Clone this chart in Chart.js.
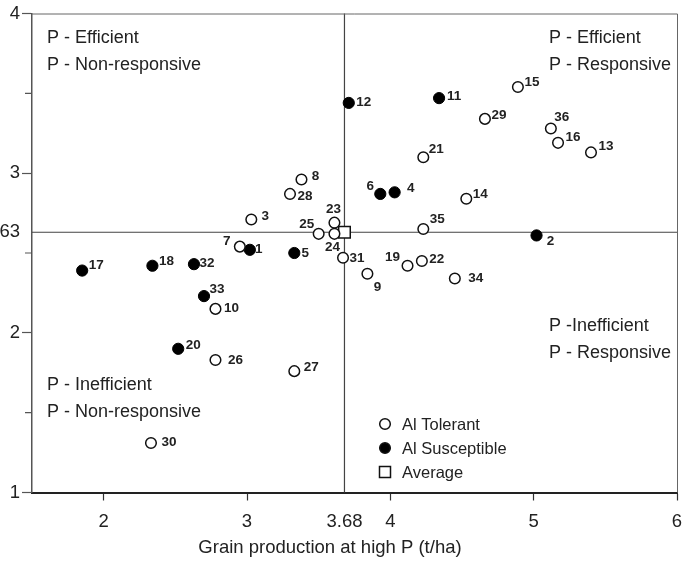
<!DOCTYPE html>
<html>
<head>
<meta charset="utf-8">
<title>Grain production at high P</title>
<script src="https://cdn.jsdelivr.net/npm/chart.js@4.4.1/dist/chart.umd.min.js"></script>
<style>
  html, body { margin: 0; padding: 0; background: #fff; overflow: hidden; }
  body { width: 684px; height: 561px; position: relative; }
  #wrap { position: absolute; left: -40px; top: 0; }
</style>
</head>
<body>
<div id="wrap"><canvas id="pChart" width="764" height="561"></canvas></div>
<script>
// genotype numbers, grain at high P (x) and the y value, split by Al reaction
const tolerantIds = [3, 7, 8, 9, 10, 13, 14, 15, 16, 19, 21, 22, 23, 24, 25, 26, 27, 28, 29, 30, 31, 34, 35, 36];
const tolerantX = [3.03, 2.95, 3.38, 3.84, 2.78, 5.40, 4.53, 4.89, 5.17, 4.12, 4.23, 4.22, 3.61, 3.61, 3.50, 2.78, 3.33, 3.30, 4.66, 2.33, 3.67, 4.45, 4.23, 5.12];
const tolerantY = [2.71, 2.54, 2.96, 2.37, 2.15, 3.13, 2.84, 3.54, 3.19, 2.42, 3.10, 2.45, 2.69, 2.62, 2.62, 1.83, 1.76, 2.87, 3.34, 1.31, 2.47, 2.34, 2.65, 3.28];

const susceptibleIds = [1, 2, 4, 5, 6, 11, 12, 17, 18, 20, 32, 33];
const susceptibleX = [3.02, 5.02, 4.03, 3.33, 3.93, 4.34, 3.71, 1.85, 2.34, 2.52, 2.63, 2.70];
const susceptibleY = [2.52, 2.61, 2.88, 2.50, 2.87, 3.47, 3.44, 2.39, 2.42, 1.90, 2.43, 2.23];

const avgX = 3.68;
const avgY = 2.63;

const xTicks = [2, 3, 3.68, 4, 5, 6];
const yTicks = [1, 1.5, 2, 2.5, 2.63, 3, 3.5, 4];
const yMinor = [1.5, 2.5, 3.5];

const xTitle = 'Grain production at high P (t/ha)';

// where each number sits next to its marker (pixels from the point centre)
const labelOffset = {
  1: [9, -1], 2: [14, 6], 3: [14, -3], 4: [16, -4], 5: [11, 0], 6: [-10, -8],
  7: [-13, -5], 8: [14, -3], 9: [10, 14], 10: [16, -1], 11: [15, -2], 12: [15, -1],
  13: [15, -6], 14: [14, -4], 15: [14, -5], 16: [15, -6], 17: [14, -5], 18: [14, -4],
  19: [-15, -8], 20: [15, -4], 21: [13, -8], 22: [15, -2], 23: [-1, -13], 24: [-2, 13],
  25: [-12, -10], 26: [20, 0], 27: [17, -4], 28: [15, 2], 29: [14, -4], 30: [18, -1],
  31: [14, 0], 32: [13, -1], 33: [13, -7], 34: [21, 0], 35: [14, -10], 36: [11, -11]
};

const quadrantText = [
  { lines: ['P - Efficient', 'P - Non-responsive'], dx: 15, dy: 24.5 },
  { lines: ['P - Efficient', 'P - Responsive'], dx: 517, dy: 24.5 },
  { lines: ['P -Inefficient', 'P - Responsive'], dx: 517, dy: 312.5 },
  { lines: ['P - Inefficient', 'P - Non-responsive'], dx: 15, dy: 371.5 }
];

const toPoints = (xs, ys, ids) => xs.map((x, i) => ({ x: x, y: ys[i], id: ids ? ids[i] : null }));

const TEXT = '#222';
const FONT = "'Liberation Sans', Arial, sans-serif";

// average lines, frame, minor ticks, quadrant captions, axis title, point numbers, legend
const decorPlugin = {
  id: 'decor',
  beforeDatasetsDraw(chart) {
    const { ctx, chartArea: a, scales: { x, y } } = chart;
    ctx.save();
    ctx.strokeStyle = '#444';
    ctx.lineWidth = 1.2;
    const vx = x.getPixelForValue(avgX);
    const hy = y.getPixelForValue(avgY);
    ctx.beginPath();
    ctx.moveTo(vx, a.top); ctx.lineTo(vx, a.bottom);
    ctx.moveTo(a.left, hy); ctx.lineTo(a.right, hy);
    ctx.stroke();

    ctx.strokeStyle = '#666';
    ctx.lineWidth = 1;
    ctx.beginPath();
    ctx.moveTo(a.left, a.top + 0.5); ctx.lineTo(a.right + 0.5, a.top + 0.5); ctx.lineTo(a.right + 0.5, a.bottom);
    ctx.stroke();

    ctx.strokeStyle = '#555';
    ctx.lineWidth = 1.2;
    ctx.beginPath();
    yMinor.forEach(v => {
      const py = y.getPixelForValue(v);
      ctx.moveTo(a.left - 7, py); ctx.lineTo(a.left, py);
    });
    ctx.stroke();

    ctx.fillStyle = TEXT;
    ctx.font = '18px ' + FONT;
    ctx.textBaseline = 'middle';
    ctx.textAlign = 'left';
    quadrantText.forEach(q => {
      q.lines.forEach((t, i) => ctx.fillText(t, a.left + q.dx, a.top + q.dy + i * 27));
    });

    // axis title sits a little left of the plot centre
    ctx.font = '18.5px ' + FONT;
    ctx.textAlign = 'center';
    ctx.fillText(xTitle, a.left + 298, a.bottom + 55);
    ctx.restore();
  },
  afterDatasetsDraw(chart) {
    const { ctx, chartArea: a } = chart;
    ctx.save();
    ctx.fillStyle = TEXT;
    ctx.font = 'bold 13.5px ' + FONT;
    ctx.textAlign = 'center';
    ctx.textBaseline = 'middle';
    chart.data.datasets.forEach((ds, di) => {
      const meta = chart.getDatasetMeta(di);
      meta.data.forEach((el, i) => {
        const id = ds.data[i].id;
        if (id == null) return;
        const off = labelOffset[id] || [12, 0];
        ctx.fillText(String(id), el.x + off[0], el.y + off[1]);
      });
    });

    // legend box inside the lower part of the plot
    const lx = a.left + 353;
    const ly = a.top + 410.5;
    ctx.font = '16.5px ' + FONT;
    ctx.textAlign = 'left';
    chart.data.datasets.forEach((ds, i) => {
      const cy = ly + i * 24;
      ctx.lineWidth = 1.5;
      ctx.strokeStyle = '#111';
      ctx.fillStyle = ds.backgroundColor;
      ctx.beginPath();
      if (ds.pointStyle === 'rect') {
        ctx.rect(lx - 5.5, cy - 5.5, 11, 11);
      } else {
        ctx.arc(lx, cy, 5.3, 0, Math.PI * 2);
      }
      ctx.fill();
      ctx.stroke();
      ctx.fillStyle = TEXT;
      ctx.fillText(ds.label, lx + 17, cy + 1);
    });
    ctx.restore();
  }
};

new Chart(document.getElementById('pChart'), {
  type: 'scatter',
  data: {
    datasets: [
      {
        label: 'Al Tolerant',
        data: toPoints(tolerantX, tolerantY, tolerantIds),
        pointStyle: 'circle',
        pointRadius: 5.3,
        backgroundColor: '#fff',
        borderColor: '#111',
        borderWidth: 1.5
      },
      {
        label: 'Al Susceptible',
        data: toPoints(susceptibleX, susceptibleY, susceptibleIds),
        pointStyle: 'circle',
        pointRadius: 5.6,
        backgroundColor: '#000',
        borderColor: '#000',
        borderWidth: 1
      },
      {
        label: 'Average',
        data: [{ x: avgX, y: avgY, id: null }],
        pointStyle: 'rect',
        pointRadius: 8.2,
        backgroundColor: '#fff',
        borderColor: '#111',
        borderWidth: 1.5
      }
    ]
  },
  options: {
    responsive: false,
    animation: false,
    layout: { padding: { top: 13.5, right: 47, bottom: 0, left: 0 } },
    plugins: {
      legend: { display: false },
      tooltip: { enabled: false }
    },
    scales: {
      x: {
        type: 'linear',
        min: 1.5,
        max: 6,
        afterBuildTicks: s => { s.ticks = xTicks.map(v => ({ value: v })); },
        afterFit: s => { s.height = 68.5; },
        ticks: {
          autoSkip: false,
          maxRotation: 0,
          padding: 10,
          color: TEXT,
          font: { family: FONT, size: 18.5 },
          callback: v => String(v)
        },
        grid: {
          drawOnChartArea: false,
          tickLength: 8,
          tickWidth: 1.2,
          tickColor: c => (c.tick && c.tick.value === avgX ? 'rgba(0,0,0,0)' : '#333')
        },
        border: { color: '#222', width: 2 },
        title: { display: false }
      },
      y: {
        type: 'linear',
        min: 1,
        max: 4,
        afterBuildTicks: s => { s.ticks = yTicks.map(v => ({ value: v })); },
        afterFit: s => { s.width = 72; },
        ticks: {
          autoSkip: false,
          padding: 2,
          color: TEXT,
          font: { family: FONT, size: 18.5 },
          callback: v => (yMinor.includes(v) ? '' : String(v))
        },
        grid: {
          drawOnChartArea: false,
          tickLength: 10,
          tickWidth: 1.2,
          tickColor: c => (c.tick && (yMinor.includes(c.tick.value) || c.tick.value === avgY) ? 'rgba(0,0,0,0)' : '#555')
        },
        border: { color: '#555', width: 1.5 }
      }
    }
  },
  plugins: [decorPlugin]
});
</script>
</body>
</html>
